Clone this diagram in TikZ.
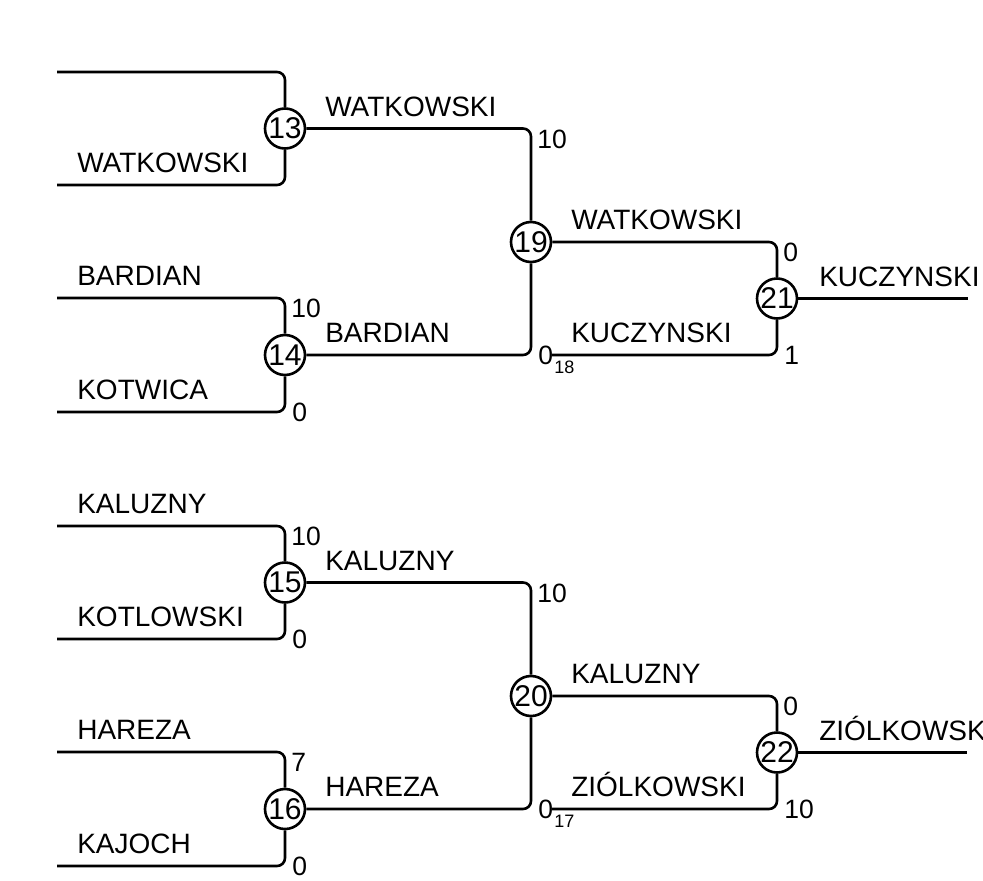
\documentclass[tikz,border=0pt]{standalone}
\usepackage{fontspec}
\setmainfont{Liberation Sans}
\usetikzlibrary{positioning}
\tikzset{
  every picture/.style={line width=2.6pt, x=1pt, y=-1pt},
  game/.style={circle, draw, fill=white, inner sep=0pt, minimum size=40pt, font=\fontsize{30}{30}\selectfont},
  wire/.style={rounded corners=8pt},
  player/.style={anchor=base west, inner sep=0pt, font=\fontsize{28}{28}\selectfont},
  hi/.style={anchor=north west, inner sep=0pt, xshift=5pt, font=\fontsize{26.5}{26.5}\selectfont},
  lo/.style={anchor=west, inner sep=0pt, xshift=6pt, font=\fontsize{26.5}{26.5}\selectfont},
  feeder/.style={anchor=north west, inner sep=0pt, font=\fontsize{18}{18}\selectfont},
}
\begin{document}
\begin{tikzpicture}
  \useasboundingbox (0,0) rectangle (983,881);
  % upper bracket
  \node[game] (g13) at (285,128.5) {13};
  \node[game] (g14) at (285,355) {14};
  \node[game] (g19) at (531,242) {19};
  \node[game] (g21) at (777,298.5) {21};
  \coordinate (p13a) at (57,72); \coordinate (p13b) at (57,185);
  \coordinate (p14a) at (57,298); \coordinate (p14b) at (57,412);
  \coordinate (p21b) at (552,355); \coordinate (out21) at (968,298.5);
  \draw[wire] (p13a) -| (g13); \draw[wire] (p13b) -| (g13);
  \draw[wire] (p14a) -| (g14); \draw[wire] (p14b) -| (g14);
  \draw[wire] (g13) -| (g19); \draw[wire] (g14) -| (g19);
  \draw[wire] (g19) -| (g21); \draw[wire] (p21b) -| (g21);
  \draw (g21) -- (out21);
  \node[player] (n13b) at (76,172.5) {WATKOWSKI};
  \node[player] (n14a) at (76,285.5) {BARDIAN};
  \node[player] (n14b) at (76,399.5) {KOTWICA};
  \node[player] (n19a) at (324,116) {WATKOWSKI};
  \node[player] (n19b) at (324,342.5) {BARDIAN};
  \node[player] (n21a) at (570,229.5) {WATKOWSKI};
  \node[player] (n21b) at (570,342.5) {KUCZYNSKI};
  \node[player] (n21w) at (818,286) {KUCZYNSKI};
  \node[hi] (s14a) at (285,298) {10}; \node[lo] (s14b) at (285,412) {0};
  \node[hi] (s19a) at (531,128.5) {10}; \node[lo] (s19b) at (531,355) {0};
  \node[feeder] (f19) at (553,360) {18};
  \node[hi] (s21a) at (777,242) {0}; \node[lo] (s21b) at (777,355) {1};
  % lower bracket
  \node[game] (g15) at (285,582.5) {15};
  \node[game] (g16) at (285,809) {16};
  \node[game] (g20) at (531,696) {20};
  \node[game] (g22) at (777,752.5) {22};
  \coordinate (p15a) at (57,526); \coordinate (p15b) at (57,639);
  \coordinate (p16a) at (57,752); \coordinate (p16b) at (57,866);
  \coordinate (p22b) at (552,809); \coordinate (out22) at (967,752.5);
  \draw[wire] (p15a) -| (g15); \draw[wire] (p15b) -| (g15);
  \draw[wire] (p16a) -| (g16); \draw[wire] (p16b) -| (g16);
  \draw[wire] (g15) -| (g20); \draw[wire] (g16) -| (g20);
  \draw[wire] (g20) -| (g22); \draw[wire] (p22b) -| (g22);
  \draw (g22) -- (out22);
  \node[player] (n15a) at (76,513.5) {KALUZNY};
  \node[player] (n15b) at (76,626.5) {KOTLOWSKI};
  \node[player] (n16a) at (76,739.5) {HAREZA};
  \node[player] (n16b) at (76,853.5) {KAJOCH};
  \node[player] (n20a) at (324,570) {KALUZNY};
  \node[player] (n20b) at (324,796.5) {HAREZA};
  \node[player] (n22a) at (570,683.5) {KALUZNY};
  \node[player] (n22b) at (570,796.5) {ZIÓLKOWSKI};
  \node[player] (n22w) at (818,740) {ZIÓLKOWSKI};
  \node[hi] (s15a) at (285,526) {10}; \node[lo] (s15b) at (285,639) {0};
  \node[hi] (s16a) at (285,752) {7}; \node[lo] (s16b) at (285,866) {0};
  \node[hi] (s20a) at (531,582.5) {10}; \node[lo] (s20b) at (531,809) {0};
  \node[feeder] (f20) at (553,814) {17};
  \node[hi] (s22a) at (777,696) {0}; \node[lo] (s22b) at (777,809) {10};
\end{tikzpicture}
\end{document}
